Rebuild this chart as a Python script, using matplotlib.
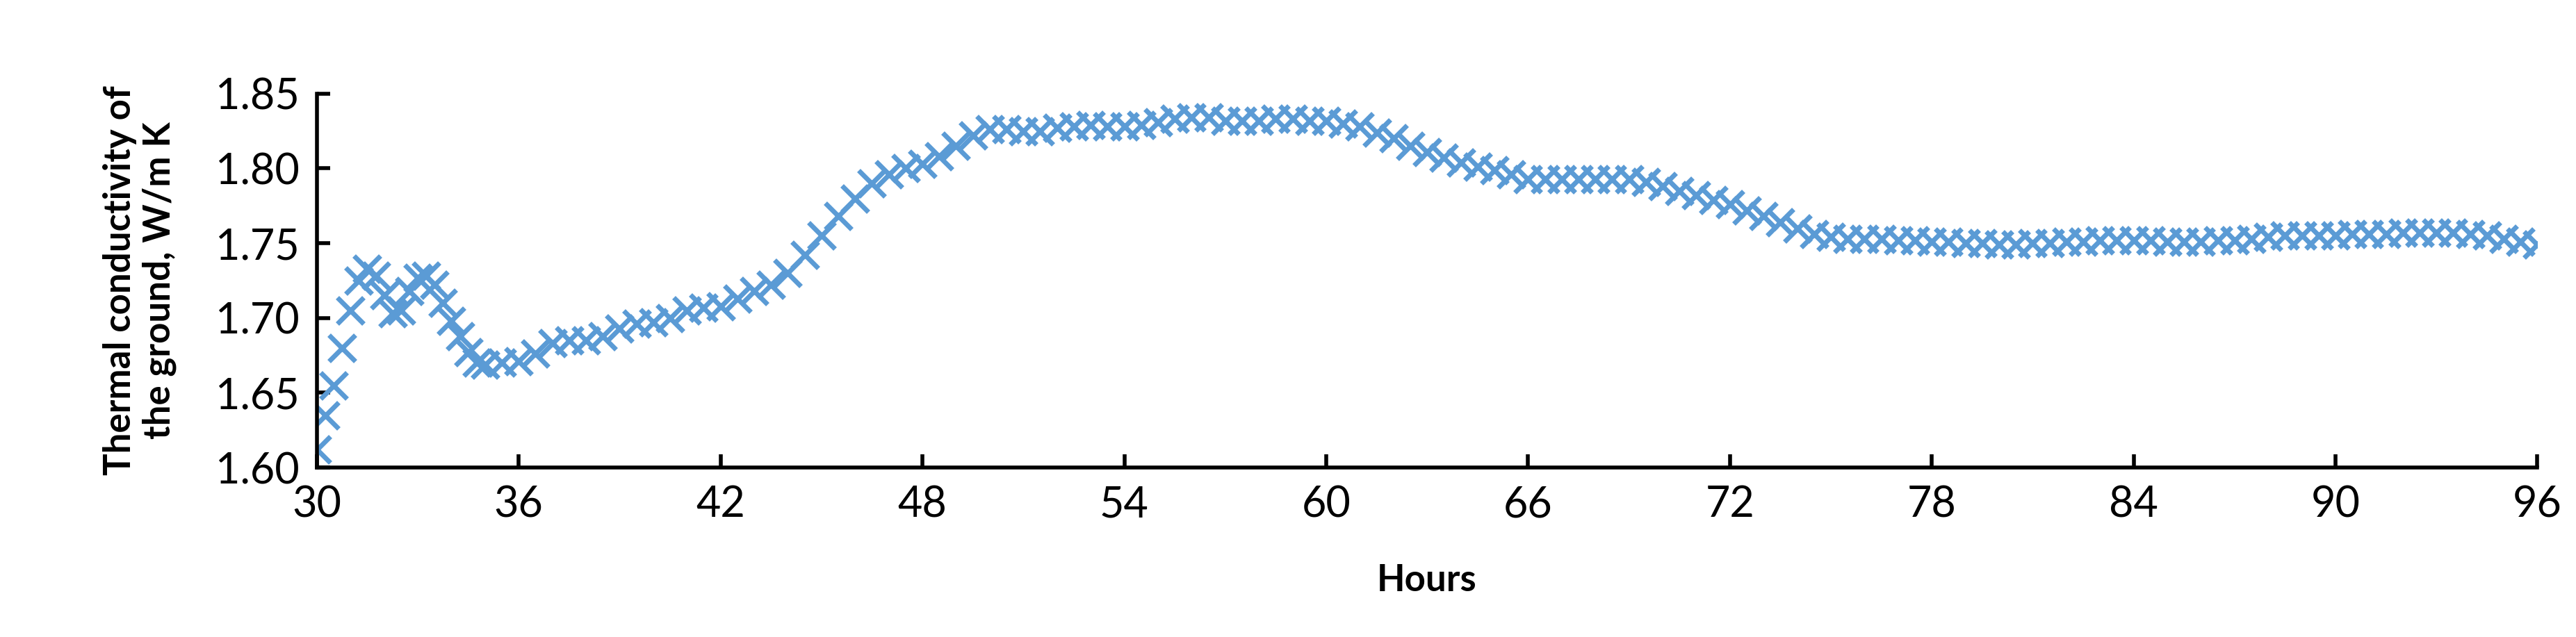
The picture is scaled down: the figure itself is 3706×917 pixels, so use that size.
import matplotlib
matplotlib.use("Agg")
import matplotlib.pyplot as plt

hours = [30.0,30.25,30.5,30.75,31.0,31.25,31.5,31.75,32.0,32.25,32.5,32.75,33.0,33.25,33.5,33.75,34.0,34.25,34.5,34.75,
         35.0,35.5,36.0,36.5,37.0,37.5,38.0,38.5,39.0,39.5,40.0,40.5,41.0,41.5,42.0,42.5,43.0,43.5,44.0,44.5,
         45.0,45.5,46.0,46.5,47.0,47.5,48.0,48.5,49.0,49.5,50.0,50.5,51.0,51.5,52.0,52.5,53.0,53.5,54.0,54.5,
         55.0,55.5,56.0,56.5,57.0,57.5,58.0,58.5,59.0,59.5,60.0,60.5,61.0,61.5,62.0,62.5,63.0,63.5,64.0,64.5,
         65.0,65.5,66.0,66.5,67.0,67.5,68.0,68.5,69.0,69.5,70.0,70.5,71.0,71.5,72.0,72.5,73.0,73.5,74.0,74.5,
         75.0,75.5,76.0,76.5,77.0,77.5,78.0,78.5,79.0,79.5,80.0,80.5,81.0,81.5,82.0,82.5,83.0,83.5,84.0,84.5,
         85.0,85.5,86.0,86.5,87.0,87.5,88.0,88.5,89.0,89.5,90.0,90.5,91.0,91.5,92.0,92.5,93.0,93.5,94.0,94.5,
         95.0,95.5,96.0]
conductivity = [1.612,1.635,1.655,1.680,1.705,1.725,1.733,1.728,1.715,1.703,1.705,1.718,1.727,1.728,1.722,1.710,1.698,1.688,1.677,1.670,
         1.669,1.670,1.671,1.676,1.683,1.685,1.685,1.688,1.693,1.696,1.697,1.700,1.705,1.707,1.708,1.713,1.718,1.722,1.730,1.742,
         1.755,1.768,1.780,1.790,1.796,1.800,1.803,1.808,1.815,1.822,1.826,1.826,1.825,1.825,1.827,1.828,1.829,1.828,1.828,1.829,
         1.831,1.833,1.834,1.834,1.832,1.832,1.832,1.833,1.833,1.832,1.832,1.830,1.828,1.824,1.820,1.815,1.811,1.807,1.804,1.801,
         1.799,1.796,1.793,1.793,1.793,1.793,1.793,1.793,1.793,1.791,1.788,1.785,1.782,1.779,1.776,1.772,1.768,1.764,1.760,1.756,
         1.754,1.753,1.753,1.753,1.752,1.752,1.751,1.751,1.750,1.750,1.749,1.749,1.750,1.750,1.751,1.751,1.752,1.752,1.752,1.752,
         1.751,1.751,1.751,1.752,1.752,1.753,1.754,1.755,1.755,1.755,1.755,1.756,1.756,1.756,1.757,1.757,1.757,1.757,1.756,1.755,
         1.753,1.751,1.749]
xticks = [30,36,42,48,54,60,66,72,78,84,90,96]
yticks = [1.60,1.65,1.70,1.75,1.80,1.85]

plt.rcParams['font.family'] = ['Lato', 'DejaVu Sans']
fig = plt.figure(figsize=(37.06, 9.17), dpi=100)
ax = fig.add_axes([0.123, 0.266, 0.862, 0.587])
ax.plot(hours, conductivity, linestyle='none', marker='x', color='#5B9BD5',
        markersize=28, markeredgewidth=5)
ax.set_xlim(30, 96)
ax.set_ylim(1.60, 1.85)
ax.set_xticks(xticks)
ax.set_yticks(yticks)
ax.set_yticklabels([f"{v:.2f}" for v in yticks])
for s in ['top', 'right']:
    ax.spines[s].set_visible(False)
for s in ['left', 'bottom']:
    ax.spines[s].set_linewidth(4)
ax.tick_params(direction='in', length=14, width=4, labelsize=44, pad=18)
ax.set_xlabel('Hours', fontsize=38, fontweight='bold', labelpad=40)
ax.set_ylabel('Thermal conductivity of\nthe ground, W/m K', fontsize=38, fontweight='bold', labelpad=40)
fig.savefig('out.png', dpi=100)
